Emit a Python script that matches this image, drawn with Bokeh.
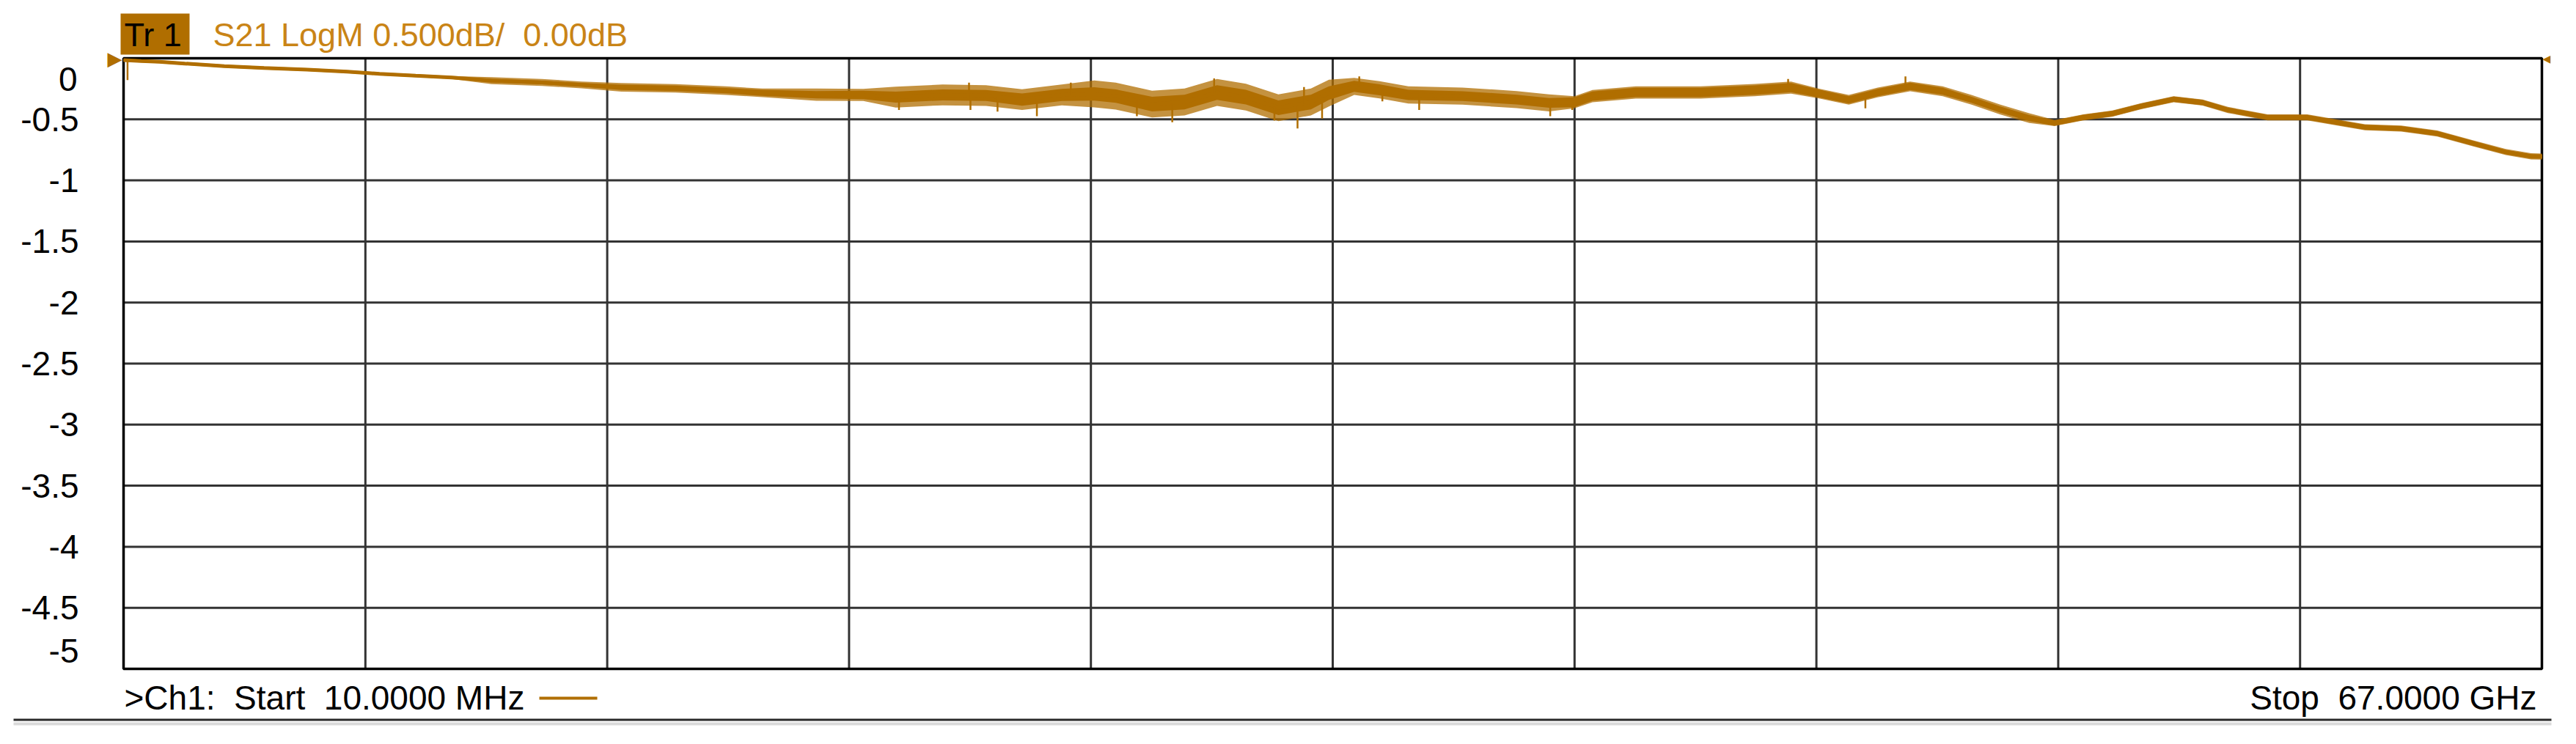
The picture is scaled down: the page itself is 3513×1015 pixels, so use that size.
from bokeh.plotting import figure
from bokeh.models import Range1d, Label, BoxAnnotation, ColumnDataSource
from bokeh.embed import file_html
from bokeh.resources import INLINE

# ---------------- data ----------------
freq_ghz = [0.01, 0.5, 1.0, 1.7, 2.8, 3.9, 5.1, 6.2, 7.1, 8.1,
            9.1, 10.2, 11.6, 12.7, 13.8, 15.3, 16.7, 17.7, 19.2, 20.5,
            21.4, 22.7, 23.9, 24.9, 26.0, 26.9, 27.5, 28.5, 29.4, 30.3,
            31.1, 32.0, 32.9, 33.4, 34.1, 34.8, 35.6, 37.1, 38.6, 39.5,
            40.2, 40.7, 41.9, 43.7, 45.2, 46.2, 47.0, 47.8, 48.6, 49.5,
            50.4, 51.2, 52.0, 52.8, 53.5, 54.3, 55.1, 55.9, 56.8, 57.6,
            58.3, 59.4, 60.5, 61.3, 62.1, 63.1, 64.1, 65.1, 66.0, 66.7,
            67.0]
s21_db = [-0.015, -0.022, -0.028, -0.043, -0.065, -0.080, -0.093, -0.110, -0.127, -0.143,
          -0.158, -0.183, -0.198, -0.218, -0.238, -0.246, -0.265, -0.283, -0.298, -0.300,
          -0.318, -0.300, -0.305, -0.338, -0.300, -0.292, -0.310, -0.375, -0.358, -0.280,
          -0.318, -0.405, -0.358, -0.285, -0.230, -0.258, -0.300, -0.310, -0.338, -0.365,
          -0.360, -0.310, -0.280, -0.280, -0.260, -0.240, -0.290, -0.340, -0.280, -0.230,
          -0.270, -0.340, -0.420, -0.490, -0.530, -0.484, -0.453, -0.392, -0.335, -0.362,
          -0.423, -0.484, -0.484, -0.524, -0.565, -0.575, -0.616, -0.697, -0.768, -0.803,
          -0.805]
# half width of the dense noise core around the trace (dB)
noise_db = [0.008, 0.008, 0.008, 0.008, 0.008, 0.008, 0.008, 0.008, 0.008, 0.008,
            0.008, 0.015, 0.015, 0.015, 0.022, 0.022, 0.022, 0.025, 0.030, 0.035,
            0.045, 0.045, 0.045, 0.050, 0.050, 0.055, 0.055, 0.060, 0.060, 0.060,
            0.060, 0.060, 0.060, 0.055, 0.045, 0.045, 0.042, 0.040, 0.040, 0.040,
            0.040, 0.038, 0.038, 0.038, 0.038, 0.038, 0.032, 0.030, 0.030, 0.030,
            0.028, 0.025, 0.025, 0.025, 0.022, 0.022, 0.022, 0.022, 0.022, 0.022,
            0.020, 0.020, 0.020, 0.020, 0.020, 0.020, 0.020, 0.020, 0.018, 0.018,
            0.018]
# half width of the outer noise envelope (spike extremes) (dB)
noise_env_db = [0.012, 0.012, 0.012, 0.012, 0.012, 0.012, 0.012, 0.012, 0.012, 0.012,
                0.012, 0.028, 0.028, 0.028, 0.035, 0.035, 0.035, 0.035, 0.050, 0.050,
                0.085, 0.085, 0.085, 0.085, 0.085, 0.110, 0.110, 0.110, 0.110, 0.110,
                0.110, 0.110, 0.110, 0.110, 0.070, 0.070, 0.070, 0.070, 0.070, 0.070,
                0.050, 0.050, 0.050, 0.050, 0.050, 0.050, 0.040, 0.040, 0.040, 0.040,
                0.040, 0.040, 0.040, 0.040, 0.025, 0.025, 0.025, 0.025, 0.025, 0.025,
                0.025, 0.025, 0.025, 0.025, 0.025, 0.025, 0.025, 0.025, 0.025, 0.025,
                0.025]
# isolated noise spikes
spike_freq = [0.12, 21.49, 23.43, 23.47, 24.22, 25.31, 26.25, 28.08, 29.06, 30.22,
              31.89, 32.53, 32.71, 33.21, 34.24, 34.88, 35.90, 39.53, 40.14, 46.12,
              48.26, 49.37]
spike_base = [-0.015, -0.318, -0.300, -0.300, -0.315, -0.330, -0.300, -0.340, -0.370, -0.285,
              -0.395, -0.385, -0.370, -0.320, -0.235, -0.262, -0.302, -0.365, -0.360, -0.242,
              -0.305, -0.235]
spike_tip = [-0.179, -0.423, -0.200, -0.423, -0.437, -0.474, -0.200, -0.474, -0.524, -0.165,
             -0.510, -0.575, -0.236, -0.494, -0.148, -0.352, -0.423, -0.474, -0.423, -0.169,
             -0.409, -0.148]

y_tick_values = [-0.5, -1.0, -1.5, -2.0, -2.5, -3.0, -3.5, -4.0, -4.5]
y_tick_labels = ["-0.5", "-1", "-1.5", "-2", "-2.5", "-3", "-3.5", "-4", "-4.5"]
y_top_label = "0"
y_bottom_label = "-5"
y_top, y_bottom = 0.0, -5.0
start_ghz = 0.01
stop_ghz = 67.0
n_div = 10

trace_title = "S21 LogM 0.500dB/\u00a0\u00a00.00dB"
trace_tag = "Tr 1"
start_text = ">Ch1:\u00a0\u00a0Start\u00a0\u00a010.0000 MHz"
stop_text = "Stop\u00a0\u00a067.0000 GHz"

# ---------------- layout / styling ----------------
TRACE = "#B06E00"
TITLE_C = "#C98416"
GRID_C = "#333333"
FONT = "Liberation Sans"

W, H = 3513, 1015           # figure size = page picture
GX0, GX1 = 168, 3466        # graticule edges in page pixels
GY0, GY1 = 79, 912
g = (stop_ghz - start_ghz) / (GX1 - GX0)     # GHz per pixel
gy = (y_top - y_bottom) / (GY1 - GY0)        # dB per pixel


def px_x(px):
    return start_ghz + (px - GX0) * g


def px_y(py):
    return y_top - (py - GY0) * gy


p = figure(width=W, height=H,
           x_range=Range1d(px_x(0), px_x(W)),
           y_range=Range1d(px_y(H), px_y(0)),
           output_backend="svg", toolbar_location=None,
           min_border=0, min_border_left=0, min_border_right=0,
           min_border_top=0, min_border_bottom=0)
p.background_fill_color = "white"
p.border_fill_color = "white"
p.outline_line_color = None
p.xaxis.visible = False
p.yaxis.visible = False
p.xgrid.visible = False
p.ygrid.visible = False

# graticule
step = (stop_ghz - start_ghz) / n_div
vx = [start_ghz + step * k for k in range(1, n_div)]
p.segment(x0=vx, y0=[y_top] * len(vx), x1=vx, y1=[y_bottom] * len(vx),
          line_color=GRID_C, line_width=3)
p.segment(x0=[start_ghz] * len(y_tick_values), y0=y_tick_values,
          x1=[stop_ghz] * len(y_tick_values), y1=y_tick_values,
          line_color=GRID_C, line_width=3)
p.quad(left=[start_ghz], right=[stop_ghz], top=[y_top], bottom=[y_bottom],
       fill_color=None, line_color="black", line_width=3.5)

# trace
src = ColumnDataSource(dict(
    f=freq_ghz, y=s21_db,
    lo=[c - n for c, n in zip(s21_db, noise_db)],
    hi=[c + n for c, n in zip(s21_db, noise_db)],
    elo=[c - n for c, n in zip(s21_db, noise_env_db)],
    ehi=[c + n for c, n in zip(s21_db, noise_env_db)],
))
p.varea(x="f", y1="elo", y2="ehi", source=src, fill_color=TRACE, fill_alpha=0.75)
p.varea(x="f", y1="lo", y2="hi", source=src, fill_color=TRACE)
p.line(x="f", y="y", source=src, line_color=TRACE, line_width=5)
p.segment(x0=spike_freq, y0=spike_base, x1=spike_freq, y1=spike_tip,
          line_color=TRACE, line_width=2.5)


def lab(**kw):
    base = dict(text_font=FONT, text_font_size="46px", text_color="black",
                text_baseline="middle")
    base.update(kw)
    p.add_layout(Label(**base))


# y scale labels
for v, t in zip(y_tick_values, y_tick_labels):
    lab(x=px_x(107), y=v, text=t, text_align="right")
lab(x=px_x(105), y=px_y(107), text=y_top_label, text_align="right")
lab(x=px_x(107), y=px_y(887), text=y_bottom_label, text_align="right")

# header
p.add_layout(BoxAnnotation(left=px_x(164), right=px_x(258), top=px_y(18), bottom=px_y(74),
                           fill_color=TRACE, fill_alpha=1, line_color=None))
lab(x=px_x(169), y=px_y(46.5), text=trace_tag, text_font_size="45px")
lab(x=px_x(290), y=px_y(46.5), text=trace_title, text_font_size="45px",
    text_color=TITLE_C)

# footer
lab(x=px_x(169), y=px_y(951.5), text=start_text)
lab(x=px_x(3459), y=px_y(951.5), text=stop_text, text_align="right")
p.add_layout(BoxAnnotation(left=px_x(735), right=px_x(814), top=px_y(950), bottom=px_y(954),
                           fill_color=TRACE, fill_alpha=1, line_color=None))

# reference-level markers
lab(x=px_x(166), y=y_top, text="\u25B6", text_font="DejaVu Sans",
    text_font_size="26px", text_color=TRACE, text_align="right")
lab(x=px_x(3467), y=y_top, text="\u25C0", text_font="DejaVu Sans",
    text_font_size="14px", text_color=TRACE, text_align="left")

# separator lines at bottom
p.add_layout(BoxAnnotation(left=px_x(18), right=px_x(3479), top=px_y(980), bottom=px_y(983),
                           fill_color="#2a2a2a", fill_alpha=1, line_color=None))
p.add_layout(BoxAnnotation(left=px_x(18), right=px_x(3479), top=px_y(985), bottom=px_y(989),
                           fill_color="#d9d9d9", fill_alpha=1, line_color=None))

open("out.html", "w").write(file_html(p, INLINE))
